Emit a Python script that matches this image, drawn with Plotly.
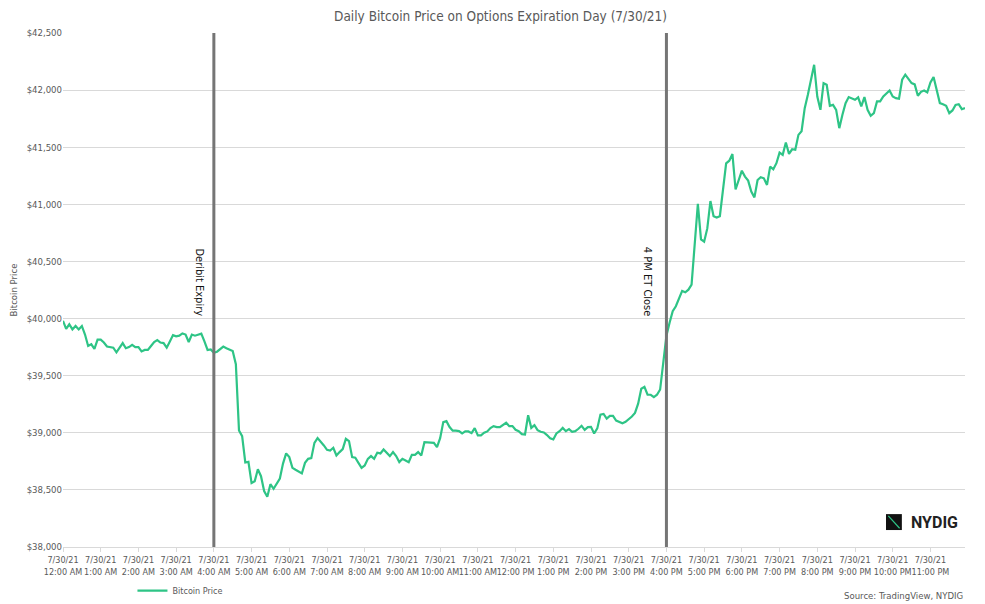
import pandas as pd
import plotly.graph_objects as go

# --- Data: BTC price, 5-minute bars on 7/30/21 ---
START = "2021-07-30 00:00"
PRICES = [
    39980, 39910, 39950, 39905, 39935, 39905, 39935, 39860, 39760, 39775, 39735, 39815,
    39815, 39790, 39755, 39750, 39745, 39705, 39745, 39785, 39740, 39750, 39770, 39750,
    39750, 39712, 39725, 39725, 39760, 39795, 39812, 39790, 39785, 39745, 39800, 39855,
    39845, 39850, 39870, 39860, 39795, 39860, 39850, 39862, 39868, 39800, 39725, 39730,
    39700, 39710, 39735, 39755, 39740, 39725, 39715, 39600, 39020, 38970, 38740, 38745,
    38560, 38575, 38680, 38620, 38490, 38440, 38550, 38510, 38560, 38600, 38730, 38820,
    38787, 38693, 38676, 38661, 38644, 38737, 38772, 38778, 38912, 38953, 38924, 38889,
    38851, 38845, 38869, 38801, 38831, 38857, 38947, 38927, 38787, 38781, 38737, 38693,
    38714, 38772, 38796, 38772, 38825, 38819, 38854, 38825, 38796, 38831, 38796, 38743,
    38772, 38758, 38743, 38807, 38807, 38831, 38801, 38918, 38918, 38912, 38912, 38874,
    38953, 39093, 39102, 39050, 39018, 39018, 39015, 38994, 39012, 39012, 38997, 39041,
    38977, 38977, 39000, 39012, 39041, 39058, 39050, 39050, 39070, 39088, 39058, 39058,
    39026, 39014, 38988, 38985, 39153, 39043, 39067, 39023, 39009, 39003, 38980, 38951,
    38942, 38994, 39014, 39043, 39014, 39032, 39009, 39014, 39035, 39061, 39026, 39049,
    39052, 38994, 39038, 39159, 39165, 39124, 39148, 39148, 39107, 39096, 39084, 39096,
    39119, 39142, 39174, 39255, 39385, 39402, 39333, 39333, 39313, 39333, 39379, 39616,
    39850, 39964, 40065, 40108, 40181, 40242, 40230, 40253, 40297, 40687, 41005, 40693,
    40673, 40789, 41029, 40896, 40884, 40896, 41121, 41359, 41382, 41440, 41130, 41213,
    41295, 41243, 41208, 41111, 41061, 41213, 41237, 41228, 41170, 41330, 41307, 41360,
    41453, 41433, 41541, 41442, 41482, 41477, 41608, 41640, 41842, 41959, 42105, 42222,
    41944, 41827, 42061, 42047, 41863, 41871, 41827, 41667, 41784, 41886, 41939, 41930,
    41915, 41936, 41857, 41939, 41827, 41775, 41798, 41901, 41901, 41944, 41968, 41997,
    41944, 41930, 41924, 42091, 42135, 42102, 42061, 42050, 41950, 41985, 41997, 41980,
    42067, 42114, 42009, 41886, 41877, 41863, 41798, 41822, 41871, 41877, 41833, 41842,
]
TIMES = pd.date_range(START, periods=len(PRICES), freq="5min")

EVENTS = ["2021-07-30 04:00", "2021-07-30 16:00"]
EVENT_LABELS = ["Deribit Expiry", "4 PM ET Close"]

Y_RANGE = [38000, 42500]

LINE_GREEN = "#2ec486"
GRID = "#d9d9d9"
TEXT_GRAY = "#595959"
FONT = "Liberation Sans Narrow, DejaVu Sans Condensed, Arial Narrow, sans-serif"

fig = go.Figure()

fig.add_trace(go.Scatter(
    x=TIMES, y=PRICES, mode="lines", name="Bitcoin Price",
    line=dict(color=LINE_GREEN, width=2.2),
))

# --- event markers ---
for t, label, shift in zip(EVENTS, EVENT_LABELS, [-14, -19]):
    fig.add_shape(type="line", xref="x", yref="paper", x0=t, x1=t, y0=0, y1=1,
                  line=dict(color="#757575", width=3), layer="above")
    fig.add_annotation(x=t, xref="x", y=0.515, yref="paper", text=label,
                       textangle=90, showarrow=False, xshift=shift,
                       font=dict(size=11, color="#111111", family=FONT))

# --- NYDIG mark ---
fig.add_shape(type="rect", xref="paper", yref="paper", x0=0.9124, x1=0.930,
              y0=0.033, y1=0.064, fillcolor="#111111", line=dict(width=0))
fig.add_shape(type="line", xref="paper", yref="paper", x0=0.9150, x1=0.9275,
              y0=0.0605, y1=0.0365, line=dict(color=LINE_GREEN, width=1.2))
fig.add_annotation(x=0.938, xref="paper", y=0.0486, yref="paper", text="<b>NYDIG</b>",
                   xanchor="left", yanchor="middle", showarrow=False,
                   font=dict(size=16, color="#222222", family="Roboto, Arial, sans-serif"))

fig.add_annotation(x=1, xref="paper", y=-0.0934, yref="paper",
                   text="Source: TradingView, NYDIG", xanchor="right", yanchor="middle",
                   showarrow=False, font=dict(size=9.5, color=TEXT_GRAY, family=FONT))

# page body has an 8px margin, so the margins are offset to land the plot area
# where it sits in the original
fig.update_layout(
    width=985, height=604,
    paper_bgcolor="white", plot_bgcolor="white",
    margin=dict(l=55, r=28, t=25, b=65, autoexpand=False),
    font=dict(family=FONT, color=TEXT_GRAY, size=9),
    title=dict(text="Daily Bitcoin Price on Options Expiration Day (7/30/21)",
               x=0.5, xanchor="center", y=0.986, yanchor="middle",
               font=dict(size=13.5, color=TEXT_GRAY, family=FONT)),
    showlegend=True,
    legend=dict(orientation="h", x=0.077, xanchor="left", y=-0.085, yanchor="middle",
                font=dict(size=9, color=TEXT_GRAY, family=FONT),
                bgcolor="rgba(0,0,0,0)"),
    xaxis=dict(
        type="date", range=[TIMES[0], TIMES[-1]], automargin=False,
        tick0=START, dtick=3600000, tickformat="%-m/%-d/%y<br>%-I:%M %p",
        tickangle=0, ticks="outside", ticklen=4, tickcolor=GRID,
        showline=True, linecolor=GRID, showgrid=False, zeroline=False,
        tickfont=dict(size=9, color=TEXT_GRAY),
    ),
    yaxis=dict(
        range=Y_RANGE, dtick=500, tickformat="$,.0f", automargin=False,
        showgrid=True, gridcolor=GRID, zeroline=False, showline=False,
        tickfont=dict(size=9.5, color=TEXT_GRAY),
        title=dict(text="Bitcoin Price", standoff=9, font=dict(size=9.5, color=TEXT_GRAY)),
    ),
)

fig.write_html("out.html")
